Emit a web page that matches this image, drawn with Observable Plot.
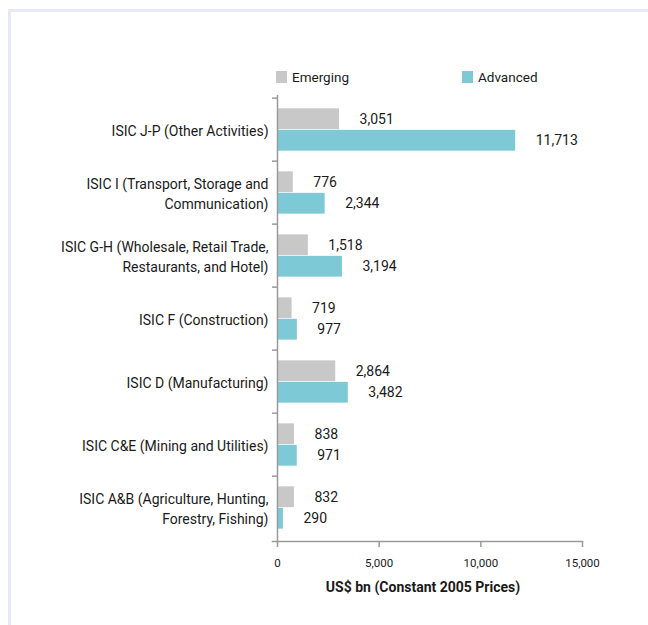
<!DOCTYPE html>
<html><head><meta charset="utf-8">
<script src="https://cdn.jsdelivr.net/npm/d3@7"></script>
<script src="https://cdn.jsdelivr.net/npm/@observablehq/plot@0.6"></script>
<style>
body{margin:0;background:#fff;width:648px;height:625px;overflow:hidden;position:relative;font-family:Roboto,"Open Sans",sans-serif;}
#frame{position:absolute;left:8px;top:9px;right:0;bottom:0;border-left:3px solid #e7e9f3;border-top:3px solid #e7e9f3;}
#chart{position:absolute;left:0;top:0;}
#legend{position:absolute;left:0;top:0;font-size:13.5px;color:#1a1a1a;}
.item{position:absolute;top:70px;display:flex;align-items:center;white-space:nowrap;height:14px;}
.sw{width:11px;height:12px;margin-right:5px;}
</style></head>
<body>
<div id="frame"></div>
<div id="chart"></div>
<div id="legend"></div>
<script>
const categories = [
  "ISIC J-P (Other Activities)",
  "ISIC I (Transport, Storage and\nCommunication)",
  "ISIC G-H (Wholesale, Retail Trade,\nRestaurants, and Hotel)",
  "ISIC F (Construction)",
  "ISIC D (Manufacturing)",
  "ISIC C&E (Mining and Utilities)",
  "ISIC A&B (Agriculture, Hunting,\nForestry, Fishing)"
];
const series = ["Emerging", "Advanced"];
const emerging = [3051, 776, 1518, 719, 2864, 838, 832];
const advanced = [11713, 2344, 3194, 977, 3482, 971, 290];
const colors = ["#c8c8c8", "#7dcad6"];
const xTicks = [0, 5000, 10000, 15000];
const xTitle = "US$ bn (Constant 2005 Prices)";

const W = 648, H = 610, mL = 277, mR = 66, mT = 95, mB = 69;
const band = (H - mT - mB) / categories.length;
const barH = 21.5;
const inset = (band - barH) / 2;
const axisColor = "#9a9a9a";
const fmt = d3.format(",");

const rowsE = categories.map((c, i) => ({category: c, series: series[0], value: emerging[i]}));
const rowsA = categories.map((c, i) => ({category: c, series: series[1], value: advanced[i]}));

const chart = Plot.plot({
  width: W, height: H,
  marginLeft: mL, marginRight: mR, marginTop: mT, marginBottom: mB,
  style: {fontFamily: "Roboto, 'Open Sans', sans-serif", fontSize: "14px", color: "#1a1a1a", background: "transparent"},
  x: {domain: [0, 15000]},
  y: {type: "band", domain: categories, padding: 0},
  color: {domain: series, range: colors},
  marks: [
    Plot.barX(rowsE, {x: "value", y: "category", fill: "series", insetTop: inset, insetBottom: inset, dy: -barH / 2}),
    Plot.barX(rowsA, {x: "value", y: "category", fill: "series", insetTop: inset, insetBottom: inset, dy: barH / 2}),
    Plot.text(rowsE, {x: "value", y: "category", text: d => fmt(d.value), textAnchor: "start", dx: 20, dy: -barH / 2, fill: "#1a1a1a", fontSize: 14}),
    Plot.text(rowsA, {x: "value", y: "category", text: d => fmt(d.value), textAnchor: "start", dx: 20, dy: barH / 2, fill: "#1a1a1a", fontSize: 14}),
    Plot.text(categories, {y: d => d, frameAnchor: "left", textAnchor: "end", dx: -9, lineHeight: 1.42, fill: "#1a1a1a", fontSize: 14}),
    Plot.axisY({ticks: categories, tickSize: 5, tickFormat: () => "", dy: -band / 2, stroke: axisColor, strokeWidth: 1.5, label: null}),
    Plot.ruleX([0], {stroke: axisColor, strokeWidth: 1.5}),
    Plot.frame({anchor: "bottom", insetLeft: -5, stroke: axisColor, strokeWidth: 1.5}),
    Plot.axisX({ticks: xTicks, tickSize: 6, tickPadding: 11, tickFormat: fmt, stroke: axisColor, strokeWidth: 1.5, fontSize: 11.5, fill: "#1a1a1a", label: null}),
    Plot.text([xTitle], {frameAnchor: "bottom", dy: 50, dx: -7, fontWeight: "bold", fontSize: 14, fill: "#1a1a1a"})
  ]
});
document.getElementById("chart").appendChild(chart);

const legend = document.getElementById("legend");
const legendX = [276, 462];
series.forEach((s, i) => {
  const item = document.createElement("div");
  item.className = "item";
  item.style.left = legendX[i] + "px";
  const sw = document.createElement("span");
  sw.className = "sw";
  sw.style.background = colors[i];
  item.appendChild(sw);
  item.appendChild(document.createTextNode(s));
  legend.appendChild(item);
});
</script>
</body></html>
